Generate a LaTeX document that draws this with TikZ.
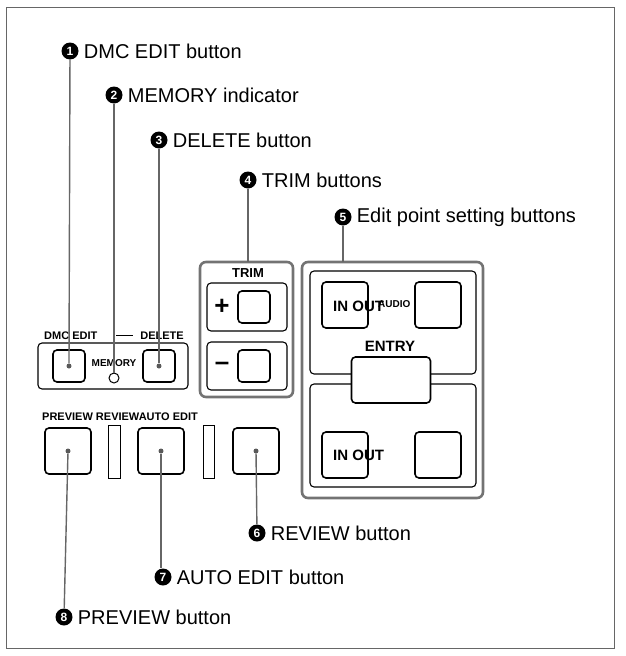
\documentclass[tikz,border=0pt]{standalone}
\usepackage{fontspec}
\setmainfont{Liberation Sans}
\usetikzlibrary{positioning}
\tikzset{
  key/.style={draw, line width=1.6pt, rounded corners=4pt, minimum width=#1, minimum height=#1, inner sep=0pt},
  key/.default=46pt,
  panel/.style={draw, line width=1.1pt, rounded corners=4pt},
  frame/.style={draw=black!55, line width=2.6pt, rounded corners=6pt},
  num/.style={circle, fill=black, text=white, inner sep=0pt, minimum size=17pt, font=\fontsize{12}{12}\selectfont\bfseries},
  callout/.style={font=\fontsize{20}{20}\selectfont, anchor=west, inner sep=0pt},
  lead/.style={draw=black!60, line width=1.4pt},
  lbl/.style={font=\fontsize{11}{11}\selectfont\bfseries, inner sep=0pt},
  dot/.style={circle, fill=black!65, inner sep=0pt, minimum size=5pt}
}
\begin{document}
\begin{tikzpicture}[x=1pt, y=-1pt]
  \useasboundingbox (0,0) rectangle (626,656);
  \draw[black!60, line width=0.8pt] (6,7) rectangle (614,648);
  % callouts
  \node[num] (n1) at (70,51) {1};  \node[callout, right=5pt of n1] {DMC EDIT button};
  \node[num] (n2) at (114,95) {2}; \node[callout, right=5pt of n2] {MEMORY indicator};
  \node[num] (n3) at (159,140) {3};\node[callout, right=5pt of n3] {DELETE button};
  \node[num] (n4) at (248,180) {4};\node[callout, right=5pt of n4] {TRIM buttons};
  \node[num] (n5) at (343,217) {5};\node[callout, right=5pt of n5] {Edit point setting buttons};
  \node[num] (n6) at (257,533) {6};\node[callout, right=5pt of n6] {REVIEW button};
  \node[num] (n7) at (163,577) {7};\node[callout, right=5pt of n7] {AUTO EDIT button};
  \node[num] (n8) at (64,617) {8}; \node[callout, right=5pt of n8] {PREVIEW button};
  % DMC edit / delete block
  \draw[panel] (38,343) rectangle (188,389);
  \node[lbl, anchor=west] at (44,336) {DMC EDIT};
  \node[lbl, anchor=east] (dellbl) at (184,336) {DELETE};
  \draw[line width=0.8pt] (116,335) -- (133,335);
  \node[key=32pt] (dmc) at (69,366) {};
  \node[key=32pt] (del) at (159,366) {};
  \node[dot] (dmcdot) at (dmc) {};
  \node[dot] (deldot) at (del) {};
  \node[lbl, font=\fontsize{10}{10}\selectfont\bfseries] at (114,363) {MEMORY};
  \node[draw, circle, line width=1pt, minimum size=10pt, inner sep=0pt] (led) at (114,378) {};
  % preview / review / auto edit row
  \node[lbl, anchor=west] at (42,417) {PREVIEW REVIEWAUTO EDIT};
  \node[key] (prev) at (68,451) {};
  \node[key] (auto) at (161,451) {};
  \node[key] (rev) at (256,451) {};
  \node[dot] (prevdot) at (prev) {};
  \node[dot] (autodot) at (auto) {};
  \node[dot] (revdot) at (rev) {};
  \draw[line width=0.9pt] (108,425) rectangle (120,478);
  \draw[line width=0.9pt] (203,425) rectangle (214,478);
  % trim
  \draw[frame] (200,262) rectangle (293,397);
  \node[lbl, font=\fontsize{13}{13}\selectfont\bfseries] at (248,273) {TRIM};
  \draw[panel] (207,283) rectangle (287,331);
  \draw[panel] (207,342) rectangle (287,390);
  \node[font=\fontsize{26}{26}\selectfont\bfseries] at (222,307) {+};
  \node[font=\fontsize{26}{26}\selectfont\bfseries] at (222,366) {--};
  \node[key=32pt] (plus) at (254,307) {};
  \node[key=32pt] (minus) at (254,366) {};
  % edit point setting
  \draw[frame] (302,262) rectangle (483,498);
  \draw[panel] (310,271) rectangle (476,374);
  \draw[panel] (310,384) rectangle (476,487);
  \node[key] (inout) at (345,305) {};
  \node[key] (audio) at (438,305) {};
  \node[key, minimum width=79pt, fill=white] (entry) at (391,380) {};
  \node[lbl, font=\fontsize{15}{15}\selectfont\bfseries] at (390,346) {ENTRY};
  \node[font=\fontsize{15}{15}\selectfont\bfseries, anchor=west, inner sep=0pt] at (333,306) {IN OUT};
  \node[font=\fontsize{10}{10}\selectfont\bfseries, anchor=west, inner sep=0pt] at (378,304) {AUDIO};
  \node[key] (inout2) at (345,455) {};
  \node[key] (entry2) at (438,455) {};
  \node[font=\fontsize{15}{15}\selectfont\bfseries, anchor=west, inner sep=0pt] at (333,455) {IN OUT};
  % leaders
  \draw[lead] (n1) -- (dmcdot);
  \draw[lead] (n2) -- (led);
  \draw[lead] (n3) -- (deldot);
  \draw[lead] (n4) -- (248,262);
  \draw[lead] (n5) -- (343,262);
  \draw[lead] (revdot) -- (n6);
  \draw[lead] (autodot.south) -- (autodot |- n7.north);
  \draw[lead] (prevdot) -- (n8);
\end{tikzpicture}
\end{document}
